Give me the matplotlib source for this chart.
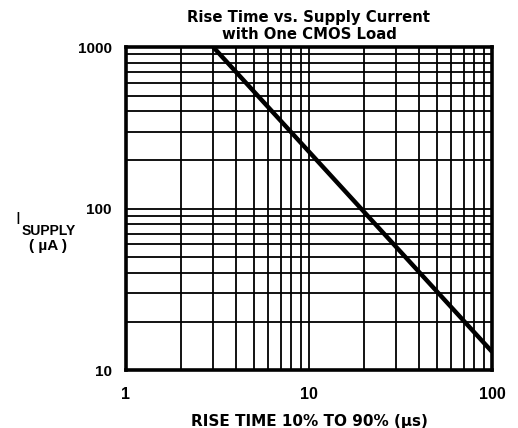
import numpy as np
import matplotlib
matplotlib.use("Agg")
import matplotlib.pyplot as plt
from matplotlib.ticker import LogLocator, NullFormatter

plt.rcParams["font.family"] = ["Liberation Sans", "DejaVu Sans"]

# data
rise_time_us = [3, 100]
supply_current_ua = [1000, 13]

x_ticks = [1, 10, 100]
x_tick_labels = ["1", "10", "100"]
y_ticks = [10, 100, 1000]
y_tick_labels = ["10", "100", "1000"]

title = "Rise Time vs. Supply Current\nwith One CMOS Load"
x_label = "RISE TIME 10% TO 90% (\u00b5s)"

fig = plt.figure(figsize=(5.18, 4.28), dpi=100)
ax = fig.add_axes([0.243, 0.135, 0.707, 0.755])

ax.set_xscale("log")
ax.set_yscale("log")
ax.set_xlim(1, 100)
ax.set_ylim(10, 1000)

ax.plot(rise_time_us, supply_current_ua, color="black", lw=3.2,
        solid_capstyle="butt", zorder=3)

ax.set_xticks(x_ticks)
ax.set_xticklabels(x_tick_labels)
ax.set_yticks(y_ticks)
ax.set_yticklabels(y_tick_labels)
ax.xaxis.set_minor_locator(LogLocator(base=10, subs=np.arange(2, 10)))
ax.yaxis.set_minor_locator(LogLocator(base=10, subs=np.arange(2, 10)))
ax.xaxis.set_minor_formatter(NullFormatter())
ax.yaxis.set_minor_formatter(NullFormatter())
ax.tick_params(which="both", length=0)
ax.tick_params(axis="x", pad=12, labelsize=11.5)
ax.tick_params(axis="y", pad=10, labelsize=11)
for lab in ax.get_xticklabels() + ax.get_yticklabels():
    lab.set_fontweight("bold")

ax.grid(True, which="both", color="black", lw=1.3)
for s in ax.spines.values():
    s.set_linewidth(2.6)

ax.set_title(title, fontsize=10.7, fontweight="bold", pad=6, linespacing=1.15,
             family="DejaVu Sans")
ax.set_xlabel(x_label, fontsize=11, fontweight="bold", labelpad=9,
              family="DejaVu Sans")

# y label: I with SUPPLY subscript, (uA) underneath
ax.text(-0.302, 0.442, "I", transform=ax.transAxes, fontsize=12.5,
        ha="left", va="bottom")
ax.text(-0.284, 0.452, "SUPPLY", transform=ax.transAxes, fontsize=10,
        ha="left", va="top", fontweight="bold")
ax.text(-0.213, 0.385, "( \u00b5A )", transform=ax.transAxes, fontsize=11,
        ha="center", va="center", fontweight="bold")

fig.savefig("out.png", dpi=100)
